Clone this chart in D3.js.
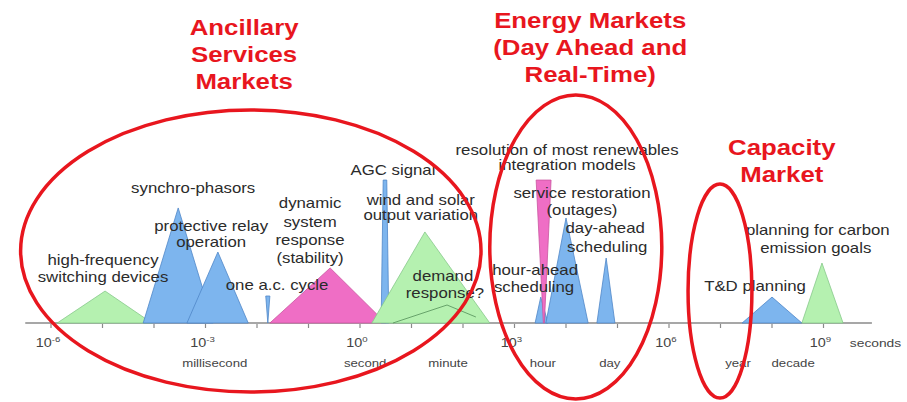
<!DOCTYPE html>
<html><head><meta charset="utf-8">
<script src="https://cdn.jsdelivr.net/npm/d3@7"></script>
<style>
html,body{margin:0;padding:0;background:#fff;}
svg{display:block;font-family:"Liberation Sans",Arial,sans-serif;}
</style></head>
<body><svg id="c" width="907" height="402"></svg>
<script>
// ---- data (x in log10 seconds, heights in arbitrary "relevance" units) ----
const shapeNames   = ["high-frequency","synchro-phasors","protective relay","one a.c. cycle","dynamic response","AGC signal","wind and solar","hour-ahead","service restoration","day-ahead","day","T&D planning","carbon planning"];
const shapeKind    = ["green","blue","blue","blue","pink","blue","green","blue","pink","blue","blue","blue","green"];
const shapeStart   = [-5.88,-4.21,-3.36,-1.79,-1.75,0.41,0.23,3.40,3.56,3.61,4.60,7.42,8.58];
const shapeEnd     = [-4.04,-2.85,-2.17,-1.79,0.50,0.56,2.52,3.65,3.58,4.43,4.95,8.58,9.38];
const peakStart    = [-4.95,-3.53,-2.76,-1.83,-0.58,0.45,1.26,3.51,3.42,4.00,4.78,8.00,8.97];
const peakEnd      = [-4.95,-3.53,-2.76,-1.75,-0.58,0.52,1.26,3.51,3.71,4.00,4.78,8.00,8.97];
const peakHeight   = [2.13,7.67,4.73,1.80,3.67,9.53,6.07,1.73,9.53,7.00,4.33,1.73,4.00];

// demand response outline (inside wind/solar)
const demandX = [0.64,1.69,2.25];
const demandH = [0,1.2,0.4];

// axis
const tickValues = [-6,-5,-4,-3,-2,-1,0,1,2,3,4,5,6,7,8,9];
const tickLabels = [-6,-3,0,3,6,9];
const unitNames  = ["millisecond","second","minute","hour","day","year","decade"];
const unitPos    = [-2.82,0.10,1.71,3.55,4.85,7.34,8.41];

// annotations
const noteText = ["high-frequency","switching devices","synchro-phasors","protective relay","operation","one a.c. cycle","dynamic","system","response","(stability)","AGC signal","wind and solar","output variation","demand","response?","resolution of most renewables","integration models","service restoration","(outages)","day-ahead","scheduling","hour-ahead","scheduling","planning for carbon","emission goals","T&D planning"];
const noteX = [-4.99,-4.99,-3.24,-2.89,-2.89,-1.61,-0.97,-0.97,-0.97,-0.97,0.64,1.18,1.18,1.61,1.65,4.02,4.02,4.31,4.31,4.76,4.80,3.40,3.38,8.89,8.85,7.67];
const noteH = [4.2,3.07,9.0,6.47,5.4,2.53,8.0,6.73,5.53,4.33,10.2,8.2,7.2,3.13,2.0,11.53,10.53,8.67,7.53,6.33,5.07,3.53,2.4,6.2,5.0,2.47];

// market groupings
const marketLines = [["Ancillary","Services","Markets"],["Energy Markets","(Day Ahead and","Real-Time)"],["Capacity","Market"]];
const marketX = [-2.25,4.47,8.19];
const marketH = [19.67,20.2,11.67];
const ellipseX  = [-2.12,4.19,6.99];
const ellipseH  = [4.8,5.07,2.13];
const ellipseRX = [4.47,1.67,0.62];
const ellipseRH = [9.4,10.13,7.13];

// ---- drawing ----
const svg = d3.select("#c");
const x = d3.scaleLinear().domain([-6,9]).range([51,823.5]);
const y = d3.scaleLinear().domain([0,10]).range([323,173]);
const fill = {blue:"#7db5ee",green:"#b5f1b0",pink:"#ef6ec5"};
const stroke = {blue:"#4f86c8",green:"#86c98a",pink:"#c9559f"};
const SX = 1.2;

// axis line
svg.append("line").attr("x1",x(-6.5)).attr("x2",x(9.94)).attr("y1",y(0)).attr("y2",y(0))
  .attr("stroke","#8a8a8a").attr("stroke-width",1.6);

// shapes
const shapes = shapeNames.map((n,i)=>({n,k:shapeKind[i],a:shapeStart[i],b:shapeEnd[i],pa:peakStart[i],pb:peakEnd[i],h:peakHeight[i]}));
svg.append("g").selectAll("path").data(shapes).join("path")
  .attr("d",d=>{
    const pts=[[x(d.a),y(0)],[x(d.pa),y(d.h)]];
    if(d.pb!==d.pa) pts.push([x(d.pb),y(d.h)]);
    pts.push([x(d.b),y(0)]);
    return d3.line()(pts)+"Z";
  })
  .attr("fill",d=>fill[d.k]).attr("stroke",d=>stroke[d.k]).attr("stroke-width",0.8);

svg.append("path").attr("d",d3.line()(demandX.map((v,i)=>[x(v),y(demandH[i])])))
  .attr("fill","none").attr("stroke","#5d9a62").attr("stroke-width",0.9);

// ticks
svg.append("g").selectAll("line").data(tickValues).join("line")
  .attr("x1",d=>x(d)).attr("x2",d=>x(d)).attr("y1",y(0)+1).attr("y2",y(0)+5)
  .attr("stroke","#8a8a8a").attr("stroke-width",1.2);

function stext(g,txt,px,py,size,color,weight){
  return g.append("text").attr("transform",`translate(${px},${py}) scale(${SX},1)`)
    .attr("text-anchor","middle").attr("dy","0.35em").attr("font-size",size)
    .attr("fill",color).attr("font-weight",weight||"normal").text(txt);
}
const axisG = svg.append("g");
tickLabels.forEach(v=>{
  const t = axisG.append("text").attr("transform",`translate(${x(v)-3},${343}) scale(${SX},1)`)
    .attr("text-anchor","middle").attr("dy","0.35em").attr("font-size",12).attr("fill","#444");
  t.append("tspan").text("10");
  t.append("tspan").attr("font-size",8).attr("dy",-5).text(v);
});
stext(axisG,"seconds",x(9)+52,343,11.5,"#444");
unitNames.forEach((u,i)=>stext(axisG,u,x(unitPos[i]),363,11,"#444"));

// annotations
const noteG = svg.append("g");
noteText.forEach((t,i)=>stext(noteG,t,x(noteX[i]),y(noteH[i]),14,"#2b2b2b"));

// ellipses
svg.append("g").selectAll("ellipse").data(ellipseX).join("ellipse")
  .attr("cx",d=>x(d)).attr("cy",(d,i)=>y(ellipseH[i]))
  .attr("rx",(d,i)=>x(ellipseRX[i])-x(0)).attr("ry",(d,i)=>y(0)-y(ellipseRH[i]))
  .attr("fill","none").attr("stroke","#e8161e").attr("stroke-width",3.5);

// market titles
const titleG = svg.append("g");
marketLines.forEach((lines,i)=>{
  lines.forEach((l,j)=>stext(titleG,l,x(marketX[i]),y(marketH[i])+j*27,21.5,"#e8161e","bold"));
});
</script></body></html>
